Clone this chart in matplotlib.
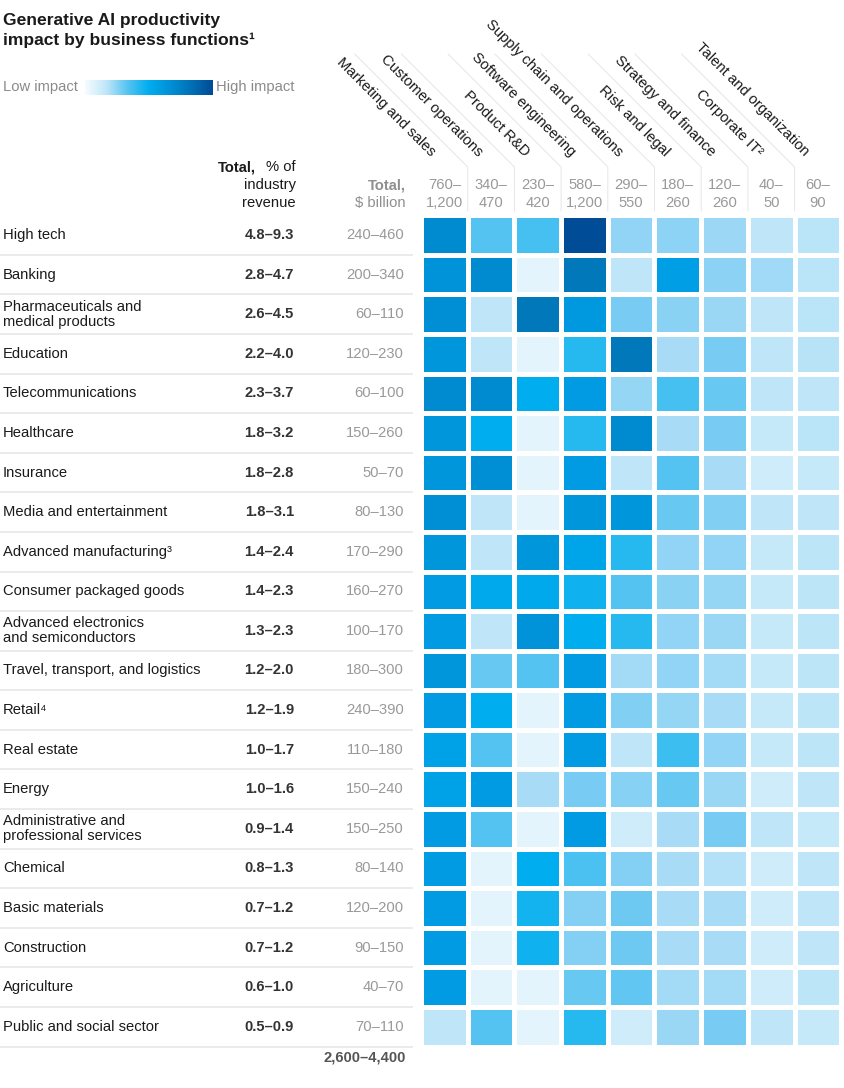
import matplotlib
matplotlib.use('Agg')
import matplotlib.pyplot as plt
import numpy as np
from matplotlib.colors import LinearSegmentedColormap

plt.rcParams['font.family'] = ['Liberation Sans', 'DejaVu Sans']

functions = ['Marketing and sales', 'Customer operations', 'Product R&D',
             'Software engineering', 'Supply chain and operations',
             'Risk and legal', 'Strategy and finance', 'Corporate IT²',
             'Talent and organization']
func_totals = ['760–\n1,200', '340–\n470', '230–\n420', '580–\n1,200',
               '290–\n550', '180–\n260', '120–\n260', '40–\n50', '60–\n90']

industries = ['High tech', 'Banking', 'Pharmaceuticals and\nmedical products',
              'Education', 'Telecommunications', 'Healthcare', 'Insurance',
              'Media and entertainment', 'Advanced manufacturing³',
              'Consumer packaged goods', 'Advanced electronics\nand semiconductors',
              'Travel, transport, and logistics', 'Retail⁴', 'Real estate',
              'Energy', 'Administrative and\nprofessional services', 'Chemical',
              'Basic materials', 'Construction', 'Agriculture',
              'Public and social sector']
pct_revenue = ['4.8–9.3', '2.8–4.7', '2.6–4.5', '2.2–4.0', '2.3–3.7', '1.8–3.2',
               '1.8–2.8', '1.8–3.1', '1.4–2.4', '1.4–2.3', '1.3–2.3', '1.2–2.0',
               '1.2–1.9', '1.0–1.7', '1.0–1.6', '0.9–1.4', '0.8–1.3', '0.7–1.2',
               '0.7–1.2', '0.6–1.0', '0.5–0.9']
usd_billion = ['240–460', '200–340', '60–110', '120–230', '60–100', '150–260',
               '50–70', '80–130', '170–290', '160–270', '100–170', '180–300',
               '240–390', '110–180', '150–240', '150–250', '80–140', '120–200',
               '90–150', '40–70', '70–110']
grand_total = '2,600–4,400'

# impact level per cell, 0 (low) .. 11 (high), read from cell shading
impact = np.array([
    [9.0, 5.0, 5.3, 11., 3.0, 3.1, 2.5, 1.0, 1.2],
    [8.5, 9.0, 0.0, 10., 1.0, 7.8, 3.2, 2.3, 1.2],
    [8.8, 1.0, 10., 8.2, 4.0, 3.3, 2.6, 1.0, 1.2],
    [8.3, 1.0, 0.0, 6.0, 10.0, 2.0, 4.0, 1.0, 1.3],
    [9.0, 9.0, 7.0, 8.0, 2.8, 5.3, 4.5, 1.0, 1.0],
    [8.3, 7.0, 0.0, 6.0, 9.0, 2.0, 4.0, 0.8, 1.2],
    [8.3, 8.8, 0.0, 8.0, 1.0, 5.0, 2.0, 0.6, 0.8],
    [8.8, 1.0, 0.0, 8.3, 8.3, 4.5, 3.6, 1.0, 1.0],
    [8.3, 1.0, 8.3, 7.5, 6.0, 3.0, 3.0, 0.8, 1.1],
    [8.0, 7.2, 7.2, 6.6, 5.0, 3.3, 2.8, 0.8, 1.1],
    [8.0, 1.0, 8.5, 7.0, 6.0, 3.0, 2.6, 0.8, 1.1],
    [8.3, 4.5, 5.0, 8.0, 2.2, 3.0, 2.2, 0.8, 1.1],
    [8.0, 7.0, 0.0, 8.0, 3.6, 2.8, 2.0, 0.8, 1.1],
    [7.6, 5.0, 0.0, 8.0, 1.0, 5.5, 3.0, 0.8, 1.1],
    [7.6, 8.0, 2.0, 4.0, 3.4, 4.5, 2.6, 0.6, 1.0],
    [8.0, 5.0, 0.0, 8.0, 0.6, 2.0, 4.0, 1.0, 0.8],
    [8.0, 0.0, 7.0, 5.2, 3.5, 2.0, 1.5, 0.6, 1.0],
    [8.0, 0.0, 6.5, 3.5, 4.3, 2.0, 2.0, 0.6, 1.0],
    [8.0, 0.0, 6.6, 3.5, 4.3, 2.0, 2.0, 0.6, 1.0],
    [8.0, 0.0, 0.0, 4.5, 4.6, 2.2, 2.2, 0.6, 1.1],
    [1.0, 5.0, 0.0, 6.0, 0.6, 2.6, 4.0, 1.0, 0.8],
])

cmap = LinearSegmentedColormap.from_list('impact', [
    '#E4F4FC', '#BEE6F8', '#A8DCF6', '#90D4F5', '#78CCF3', '#55C3F1',
    '#25B9EF', '#00ADEF', '#009BE2', '#008BD0', '#0078BA', '#004C97'])

W, H = 845, 1088
FS = 10.6
fig = plt.figure(figsize=(W / 100, H / 100), dpi=100)
fig.patch.set_facecolor('white')

bg = fig.add_axes([0, 0, 1, 1])
bg.set_xlim(0, W)
bg.set_ylim(H, 0)
bg.axis('off')

# heatmap geometry in pixels
hx0, hx1 = 421.0, 841.3
hy0, hy1 = 215.3, 1046.5
n_rows, n_cols = impact.shape
pitch_x = (hx1 - hx0) / n_cols
pitch_y = (hy1 - hy0) / n_rows

hm = fig.add_axes([hx0 / W, 1 - hy1 / H, (hx1 - hx0) / W, (hy1 - hy0) / H])
hm.pcolormesh(np.arange(n_cols + 1), np.arange(n_rows + 1), impact,
              cmap=cmap, vmin=0, vmax=11, edgecolors='white', linewidth=2.4)
hm.set_xlim(0, n_cols)
hm.set_ylim(n_rows, 0)
hm.axis('off')

# title
bg.text(3, 25, 'Generative AI productivity', fontsize=12.6, fontweight='bold',
        color='#1a1a1a', va='baseline')
bg.text(3, 45, 'impact by business functions¹', fontsize=12.6, fontweight='bold',
        color='#1a1a1a', va='baseline')

# legend
bg.text(3, 87, 'Low impact', fontsize=FS, color='#8a8a8a', va='center')
bg.text(216, 87, 'High impact', fontsize=FS, color='#8a8a8a', va='center')
lg = fig.add_axes([85 / W, 1 - 95 / H, 127 / W, 15 / H])
grad_cmap = LinearSegmentedColormap.from_list('grad', [
    '#F7FCFE', '#BEE6F8', '#55C3F1', '#00ADEF', '#0090D6', '#0070B5', '#004C97'])
lg.imshow(np.linspace(0, 1, 256)[None, :], aspect='auto', cmap=grad_cmap)
lg.axis('off')

# column headers
bg.text(256, 167, 'Total,', fontsize=FS, fontweight='bold', color='#1a1a1a',
        ha='right', va='center')
bg.text(296, 167, '% of', fontsize=FS, color='#1a1a1a', ha='right', va='center')
bg.text(296, 185, 'industry', fontsize=FS, color='#1a1a1a', ha='right', va='center')
bg.text(296, 203, 'revenue', fontsize=FS, color='#1a1a1a', ha='right', va='center')
bg.text(406, 185, 'Total,', fontsize=FS, fontweight='bold', color='#8f8f8f',
        ha='right', va='center')
bg.text(406, 203, '$ billion', fontsize=FS, color='#8f8f8f', ha='right', va='center')

for i, (name, tot) in enumerate(zip(functions, func_totals)):
    cx = hx0 + pitch_x * (i + 0.5)
    top, bottom = tot.split('\n')
    bg.text(cx, 185, top, fontsize=FS, color='#999999', ha='center', va='center')
    bg.text(cx, 203, bottom, fontsize=FS, color='#999999', ha='center', va='center')
    bg.text(cx - 14, 157, name, fontsize=FS, color='#1a1a1a', rotation=-45,
            rotation_mode='anchor', ha='right', va='baseline')
    if i > 0:
        xb = hx0 + pitch_x * i
        bg.plot([xb - 113, xb, xb], [54, 167, 211], color='#e6e6e6', lw=0.7)

# rows
for i in range(n_rows):
    cy = hy0 + pitch_y * (i + 0.5)
    bg.text(3, cy, industries[i], fontsize=FS, color='#1a1a1a', va='center',
            linespacing=1.1)
    bg.text(294, cy, pct_revenue[i], fontsize=FS, fontweight='bold',
            color='#333333', ha='right', va='center')
    bg.text(404, cy, usd_billion[i], fontsize=FS, color='#999999',
            ha='right', va='center')
    yb = hy0 + pitch_y * (i + 1)
    bg.plot([0, 412], [yb, yb], color='#e8e8e8', lw=1.2)

bg.text(406, 1058, grand_total, fontsize=FS, fontweight='bold', color='#555555',
        ha='right', va='center')

fig.savefig('out.png', dpi=100, facecolor='white')
